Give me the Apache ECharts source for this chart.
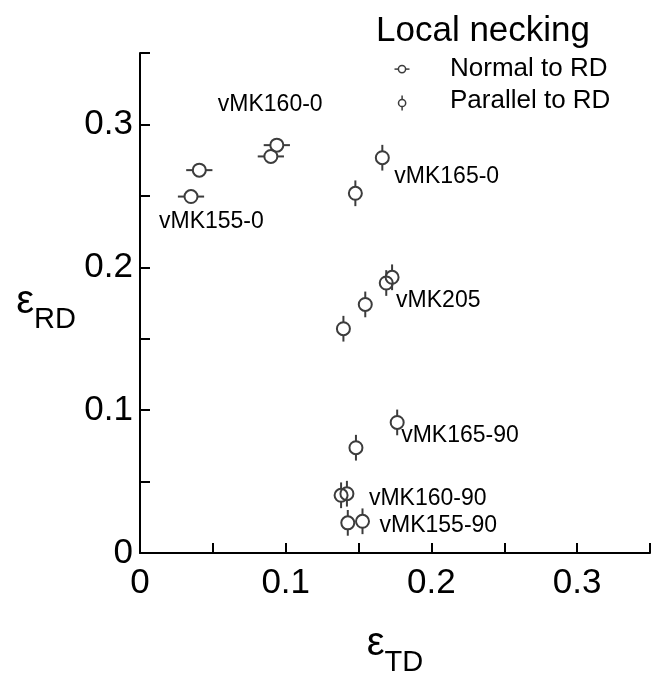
<!DOCTYPE html>
<html>
<head>
<meta charset="utf-8">
<title>Local necking strains</title>
<script src="https://cdn.jsdelivr.net/npm/echarts@6/dist/echarts.min.js"></script>
<style>
  html, body { margin: 0; padding: 0; background: #ffffff; }
  #chart { width: 653px; height: 682px; }
</style>
</head>
<body>
<div id="chart"></div>
<script>
// Necks measured normal to RD (scatter in the TD direction)
const normalGroup = ['vMK155-0', 'vMK155-0', 'vMK160-0', 'vMK160-0'];
const normalTD    = [0.035, 0.0407, 0.0898, 0.0939];
const normalRD    = [0.2495, 0.268, 0.2776, 0.2855];
const normalErrTD = [0.009, 0.009, 0.009, 0.009];

// Necks measured parallel to RD (scatter in the RD direction)
const parallelGroup = ['vMK165-0', 'vMK165-0', 'vMK205', 'vMK205', 'vMK205', 'vMK205',
                       'vMK165-90', 'vMK165-90', 'vMK160-90', 'vMK160-90', 'vMK155-90', 'vMK155-90'];
const parallelTD    = [0.1478, 0.1663, 0.1396, 0.1546, 0.169, 0.173,
                       0.1482, 0.1765, 0.138, 0.142, 0.1426, 0.1527];
const parallelRD    = [0.2518, 0.2767, 0.157, 0.174, 0.189, 0.193,
                       0.0737, 0.0914, 0.0404, 0.0415, 0.0211, 0.0222];
const parallelErrRD = [0.009, 0.009, 0.009, 0.009, 0.009, 0.009,
                       0.009, 0.009, 0.009, 0.009, 0.009, 0.009];

// Axis ticks
const axisMin = 0, axisMax = 0.35, tickStep = 0.05;
const tickLabels = ['0', '0.1', '0.2', '0.3'];

// Which point carries each specimen label, and where the text sits relative to it
const labelAnchors = {
  'vMK155-0':  { series: 'normal',   index: 0,  dx: -32, dy: 25 },
  'vMK160-0':  { series: 'normal',   index: 3,  dx: -59, dy: -40 },
  'vMK165-0':  { series: 'parallel', index: 1,  dx: 12,  dy: 19 },
  'vMK205':    { series: 'parallel', index: 5,  dx: 4,   dy: 23 },
  'vMK165-90': { series: 'parallel', index: 7,  dx: 4,   dy: 13 },
  'vMK160-90': { series: 'parallel', index: 9,  dx: 22,  dy: 5 },
  'vMK155-90': { series: 'parallel', index: 11, dx: 17,  dy: 4 }
};

const FONT = '"Liberation Sans", Arial, Helvetica, sans-serif';
const INK = '#3c3c3c';
const R = 6.5;

function labelFor(seriesKey, idx) {
  for (const name in labelAnchors) {
    const a = labelAnchors[name];
    if (a.series === seriesKey && a.index === idx) return Object.assign({ name: name }, a);
  }
  return null;
}

function makeRender(seriesKey, horizontal) {
  return function (params, api) {
    const x = api.value(0), y = api.value(1), e = api.value(2);
    const c = api.coord([x, y]);
    const children = [];
    if (horizontal) {
      const lo = api.coord([x - e, y]), hi = api.coord([x + e, y]);
      children.push({ type: 'line', shape: { x1: lo[0], y1: c[1], x2: c[0] - R, y2: c[1] },
                      style: { stroke: INK, lineWidth: 2 } });
      children.push({ type: 'line', shape: { x1: c[0] + R, y1: c[1], x2: hi[0], y2: c[1] },
                      style: { stroke: INK, lineWidth: 2 } });
    } else {
      const lo = api.coord([x, y - e]), hi = api.coord([x, y + e]);
      children.push({ type: 'line', shape: { x1: c[0], y1: lo[1], x2: c[0], y2: c[1] + R },
                      style: { stroke: INK, lineWidth: 2 } });
      children.push({ type: 'line', shape: { x1: c[0], y1: c[1] - R, x2: c[0], y2: hi[1] },
                      style: { stroke: INK, lineWidth: 2 } });
    }
    children.push({ type: 'circle', shape: { cx: c[0], cy: c[1], r: R },
                    style: { fill: 'none', stroke: INK, lineWidth: 2 } });
    const lab = labelFor(seriesKey, params.dataIndex);
    if (lab) {
      children.push({ type: 'text', x: c[0] + lab.dx, y: c[1] + lab.dy,
                      style: { text: lab.name, fill: '#000', font: '23px ' + FONT,
                               align: 'left', verticalAlign: 'middle' } });
    }
    return { type: 'group', children: children };
  };
}

const normalData = normalTD.map((v, i) => [v, normalRD[i], normalErrTD[i]]);
const parallelData = parallelTD.map((v, i) => [v, parallelRD[i], parallelErrRD[i]]);

function tickFormatter(v) {
  const k = Math.round(v * 10);
  if (Math.abs(v * 10 - k) > 1e-6) return '';
  return tickLabels[k] !== undefined ? tickLabels[k] : '';
}

const axisCommon = {
  type: 'value', min: axisMin, max: axisMax, interval: tickStep,
  axisLine: { show: true, lineStyle: { color: '#000', width: 2 } },
  axisTick: { show: true, inside: true, length: 10, lineStyle: { color: '#000', width: 2 } },
  splitLine: { show: false },
  nameLocation: 'middle'
};

const nameRich = {
  e: { fontFamily: FONT, fontSize: 40, lineHeight: 40, verticalAlign: 'top', color: '#000' },
  s: { fontFamily: FONT, fontSize: 29, lineHeight: 53, verticalAlign: 'bottom', color: '#000' }
};

const chart = echarts.init(document.getElementById('chart'), null, { renderer: 'canvas' });
chart.setOption({
  animation: false,
  backgroundColor: '#ffffff',
  grid: { left: 140, top: 53, width: 516, height: 515, containLabel: false },
  xAxis: Object.assign({}, axisCommon, {
    name: '{e|ε}{s|TD}',
    nameGap: 71,
    nameTextStyle: { align: 'center', verticalAlign: 'top', rich: nameRich },
    axisLabel: { formatter: tickFormatter, fontFamily: FONT, fontSize: 35, color: '#000', margin: 13 }
  }),
  yAxis: Object.assign({}, axisCommon, {
    name: '{e|ε}{s|RD}',
    nameGap: 94,
    nameRotate: 0,
    nameTextStyle: { align: 'center', verticalAlign: 'middle', padding: [10, 0, 0, 0], rich: nameRich },
    axisLabel: { formatter: tickFormatter, fontFamily: FONT, fontSize: 35, color: '#000', margin: 7 }
  }),
  series: [
    { name: 'Normal to RD', type: 'custom', renderItem: makeRender('normal', true),
      data: normalData, clip: false, z: 3 },
    { name: 'Parallel to RD', type: 'custom', renderItem: makeRender('parallel', false),
      data: parallelData, clip: false, z: 3 }
  ],
  graphic: [
    { type: 'text', left: 376, top: 14,
      style: { text: 'Local necking', font: '35px ' + FONT, fill: '#000' } },
    { type: 'group', left: 392, top: 63, children: [
      { type: 'line', shape: { x1: 0, y1: 7, x2: 4, y2: 7 }, style: { stroke: INK, lineWidth: 1.5 } },
      { type: 'circle', shape: { cx: 7.5, cy: 7, r: 3.6 }, style: { fill: 'none', stroke: INK, lineWidth: 1.5 } },
      { type: 'line', shape: { x1: 11, y1: 7, x2: 15, y2: 7 }, style: { stroke: INK, lineWidth: 1.5 } }
    ] },
    { type: 'text', left: 450, top: 56,
      style: { text: 'Normal to RD', font: '26px ' + FONT, fill: '#000' } },
    { type: 'group', left: 396, top: 93, children: [
      { type: 'line', shape: { x1: 3.6, y1: 0, x2: 3.6, y2: 4 }, style: { stroke: INK, lineWidth: 1.5 } },
      { type: 'circle', shape: { cx: 3.6, cy: 7.5, r: 3.6 }, style: { fill: 'none', stroke: INK, lineWidth: 1.5 } },
      { type: 'line', shape: { x1: 3.6, y1: 11, x2: 3.6, y2: 15 }, style: { stroke: INK, lineWidth: 1.5 } }
    ] },
    { type: 'text', left: 450, top: 88,
      style: { text: 'Parallel to RD', font: '26px ' + FONT, fill: '#000' } }
  ]
});
</script>
</body>
</html>
